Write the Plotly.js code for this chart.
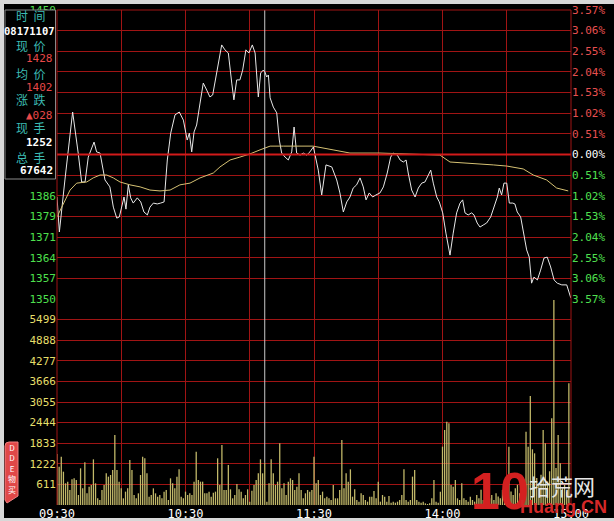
<!DOCTYPE html>
<html><head><meta charset="utf-8">
<script src="https://cdn.plot.ly/plotly-3.0.1.min.js"></script>
<style>html,body{margin:0;padding:0;background:#000;}#chart{width:614px;height:521px;}</style>
</head><body><div id="chart"></div>
<script>
// ---------- data ----------
const prevClose = 1400;
const pctLevels = [-3.57,-3.06,-2.55,-2.04,-1.53,-1.02,-0.51,0,0.51,1.02,1.53,2.04,2.55,3.06,3.57];
const priceTickText = ['1350','1357','1364','1371','1379','1386','','','','','','','','','1450'];
const pctTickText = ['3.57%','3.06%','2.55%','2.04%','1.53%','1.02%','0.51%','0.00%','0.51%','1.02%','1.53%','2.04%','2.55%','3.06%','3.57%'];
const volTickVals = [611,1222,1833,2444,3055,3666,4277,4888,5499];
const volTickText = ['611','1222','1833','2444','3055','3666','4277','4888','5499'];
const volMax = 6110;
const timeTickVals = [0,30,60,90,120,150,180,210,240];
const timeTickText = ['09:30','','10:30','','11:30','','14:00','','15:00'];

const priceTime = [0,1.1,3.7,7.3,9.9,11.5,13.1,14.6,17.3,18.5,20.1,22.4,24.7,26.3,27.9,29.1,31.3,32.2,33.3,34.4,35.6,37.5,39.1,40.6,42.2,43.4,45.0,46.8,48.4,50.0,51.5,53.1,55.1,57.1,59.0,60.8,61.8,62.9,64.0,65.2,66.8,68.3,69.9,71.4,72.7,73.8,75.3,76.9,78.4,80.0,81.6,82.6,83.9,85.4,86.7,88.2,89.6,91.2,92.5,94.0,95.1,96.3,97.1,97.9,98.7,99.5,101.0,102.6,103.8,104.9,106.5,108.0,109.6,110.7,111.9,113.5,115.0,116.6,118.1,119.7,122.0,123.6,125.6,128.3,130.6,132.1,133.7,135.3,136.8,138.3,139.9,141.5,143.0,144.3,145.8,147.4,148.9,150.8,152.4,154.2,155.8,157.0,158.9,160.2,161.7,163.0,164.0,165.6,167.2,168.7,170.3,171.8,173.4,174.5,175.7,177.3,178.5,180.1,181.6,183.5,185.0,186.6,188.2,189.4,190.5,192.0,193.6,194.7,196.2,197.5,199.0,200.6,202.5,204.0,205.6,206.5,207.6,208.7,210.0,211.2,212.8,213.8,214.9,216.5,218.0,219.3,220.5,221.6,222.7,224.3,225.8,227.4,228.9,230.5,232.1,233.6,235.7,238.0,239.9];
const priceVals = [1385.3,1373.2,1391.2,1414.7,1400.5,1390.5,1390.5,1399.1,1404.3,1400.9,1400.5,1391.2,1388.8,1381.8,1378.0,1378.4,1385.3,1381.1,1389.5,1385.0,1383.2,1385.0,1383.6,1380.1,1379.1,1381.8,1383.2,1382.9,1383.2,1383.6,1398.1,1407.4,1413.7,1414.7,1411.9,1405.0,1407.4,1400.9,1407.8,1410.2,1417.8,1424.7,1422.3,1419.9,1420.6,1425.1,1431.0,1437.9,1436.2,1435.1,1424.7,1418.9,1425.8,1425.8,1429.2,1436.2,1435.1,1437.9,1435.1,1419.9,1428.2,1429.2,1428.5,1426.8,1427.5,1419.6,1416.4,1414.4,1405.0,1400.5,1399.1,1398.1,1400.9,1409.5,1400.5,1399.8,1400.5,1399.8,1400.9,1402.6,1394.6,1386.0,1396.4,1395.7,1391.2,1386.7,1380.1,1383.6,1385.3,1388.4,1389.5,1391.9,1388.8,1384.3,1386.7,1385.3,1386.0,1386.7,1388.8,1393.6,1399.1,1400.5,1399.8,1398.1,1397.4,1398.1,1393.6,1387.7,1385.3,1388.4,1390.1,1390.5,1392.9,1394.6,1390.1,1385.3,1383.6,1379.8,1372.8,1365.2,1372.8,1379.8,1383.2,1384.3,1379.8,1379.1,1379.8,1379.1,1376.3,1374.9,1375.6,1376.3,1378.4,1381.8,1385.3,1388.4,1386.0,1390.1,1390.1,1383.2,1383.2,1382.9,1380.1,1378.4,1372.8,1367.0,1364.5,1355.5,1357.6,1356.6,1360.0,1364.2,1364.5,1361.1,1356.6,1355.5,1354.9,1354.9,1350.4];

const avgTime = [0,3.7,6.1,9.2,13.9,16.9,20.1,23.2,26.3,29.4,34.1,38.8,43.4,48.1,52.8,57.4,62.1,66.8,73.0,76.1,80.8,85.4,90.1,94.8,99.5,105.7,113.5,119.5,128.9,136.8,150.8,160.2,178.8,183.5,191.3,203.7,210.0,217.7,222.4,228.6,233.3,238.7];
const avgVals = [1378.4,1384.3,1387.7,1390.1,1390.5,1391.9,1392.9,1392.9,1391.9,1390.5,1389.5,1388.8,1387.7,1387.4,1387.7,1389.5,1390.1,1391.9,1393.6,1395.7,1398.1,1399.1,1400.2,1401.6,1402.9,1402.9,1402.9,1402.9,1401.6,1400.5,1400.5,1400.2,1399.8,1397.4,1397.1,1396.4,1396.0,1395.0,1392.9,1391.2,1388.4,1387.4];

const volume = [
1513,1137,1434,989,643,692,445,761,791,742,
297,1088,494,1266,346,544,593,1355,643,198,
148,445,593,940,841,890,1038,2077,1038,692,
494,198,396,494,1335,1038,297,198,346,890,
1434,1385,940,247,297,494,346,247,297,198,
396,445,148,791,643,494,841,1058,247,198,
396,297,346,297,692,1582,742,692,692,346,
346,396,247,366,396,1385,593,1780,445,445,
1187,465,198,297,623,465,396,198,297,465,
99,425,593,742,940,1355,940,1252,99,643,
1355,940,593,692,1830,494,643,297,692,791,
742,445,544,940,445,198,346,445,396,445,
1434,
643,742,297,396,198,247,198,148,593,198,
198,445,1929,494,940,692,1058,247,465,148,
99,346,297,148,99,247,247,415,198,692,
99,297,247,99,267,69,99,69,99,148,
297,1058,148,99,148,841,1038,148,99,69,
99,49,30,49,198,742,99,69,396,
1731,2225,2472,2423,593,544,742,198,148,643,
198,148,99,247,148,99,300,200,450,150,
250,400,200,300,150,350,250,200,450,300,
250,1731,400,300,500,600,350,700,643,2176,
1731,3234,1652,1533,800,600,900,2225,1830,700,
1000,2571,6082,1100,2077,1236,500,600,400,3610];
const volMinute = volume.map((v, i) => i);

const cursorMinute = 97;
const cursorVolume = 1252;
const infoLabels = ['时\u00a0\u00a0间','现\u00a0\u00a0价','均\u00a0\u00a0价','涨\u00a0\u00a0跌','现\u00a0\u00a0手','总\u00a0\u00a0手'];
const infoValues = ['08171107','1428','1402','▲028','1252','67642'];

// ---------- layout helpers ----------
const L = 57, T = 10, W = 514, H = 495;
const px = x => (x - L) / W;
const py = y => (T + H - y) / H;
const priceBottom = py(299);
const priceLevels = pctLevels.map(p => prevClose * (1 + p / 100));
const pctColored = pctLevels.map((p, i) => {
  const c = p > 0 ? '#e85050' : (p < 0 ? '#50e050' : '#ffffff');
  return '<span style="color:' + c + '">' + pctTickText[pctLevels.length - 1 - i] + '</span>';
});
const grid = '#a01414';
const mono = 'DejaVu Sans Mono, monospace';
const cjk = 'Noto Sans CJK SC, sans-serif';

const traces = [
  {type:'bar', x: volMinute, y: volume, yaxis:'y2', width:0.6,
   marker:{color:'#c2b96a', line:{width:0}}, hoverinfo:'skip'},
  {type:'scatter', mode:'lines', x: priceTime, y: priceVals, yaxis:'y',
   line:{color:'#e8e8e8', width:1}, hoverinfo:'skip'},
  {type:'scatter', mode:'lines', x: avgTime, y: avgVals, yaxis:'y3',
   line:{color:'#d6c274', width:1}, hoverinfo:'skip'}
];

const annotations = [];
const infoY = [16, 45, 73, 100, 128, 157];
const valY = [31, 59, 87, 115, 143, 170];
infoLabels.forEach((t, i) => annotations.push({
  text: t, xref:'paper', yref:'paper', x: px(30), y: py(infoY[i]), xanchor:'center', yanchor:'middle',
  showarrow:false, font:{family:cjk, size:12, color:'#3cbcb4'}
}));
infoValues.forEach((t, i) => {
  const red = (i >= 1 && i <= 3);
  annotations.push({
    text: red ? t : '<b>' + t + '</b>', xref:'paper', yref:'paper',
    x: i === 0 ? px(29.5) : px(55), y: py(valY[i]),
    xanchor: i === 0 ? 'center' : 'right', yanchor:'middle', showarrow:false,
    font:{family:mono, size: i === 0 ? 10.5 : 11, color: red ? '#e84848' : '#ffffff'}
  });
});
// DDE tag text
annotations.push({text:'D<br>D<br>E<br>物<br>买', xref:'paper', yref:'paper', x:px(11.5), y:py(468),
  xanchor:'center', yanchor:'middle', showarrow:false,
  font:{family:cjk, size:8, color:'#ffffff'}});
// watermark
annotations.push({text:'<b>10</b>', xref:'paper', yref:'paper', x:px(500), y:py(491),
  xanchor:'center', yanchor:'middle', showarrow:false,
  font:{family:'Liberation Sans, sans-serif', size:52, color:'#d42020'}});
annotations.push({text:'拾荒网', xref:'paper', yref:'paper', x:px(562), y:py(485),
  xanchor:'center', yanchor:'middle', showarrow:false,
  font:{family:cjk, size:22, color:'#e6e6e6'}});
annotations.push({text:'<b>Huang.CN</b>', xref:'paper', yref:'paper', x:px(563), y:py(507),
  xanchor:'center', yanchor:'middle', showarrow:false,
  font:{family:'Liberation Sans, sans-serif', size:18, color:'#d42828'}});

const shapes = [
  {type:'line', xref:'x', yref:'y', x0:0, x1:240, y0:prevClose, y1:prevClose,
   line:{color:'#d21a1a', width:2}},
  {type:'line', xref:'x', yref:'y', x0:cursorMinute, x1:cursorMinute,
   y0:priceLevels[0], y1:priceLevels[priceLevels.length-1], line:{color:'#c8c8c8', width:1}},
  {type:'line', xref:'x', yref:'y2', x0:cursorMinute, x1:cursorMinute,
   y0:cursorVolume, y1:volMax, line:{color:'#c8c8c8', width:1}},
  // frame edges
  {type:'line', xref:'paper', yref:'paper', x0:0, x1:0, y0:0, y1:1, line:{color:grid, width:1}},
  {type:'line', xref:'paper', yref:'paper', x0:1, x1:1, y0:0, y1:1, line:{color:grid, width:1}},
  {type:'line', xref:'paper', yref:'paper', x0:0, x1:1, y0:1, y1:1, line:{color:grid, width:1}},
  // info box
  {type:'rect', xref:'paper', yref:'paper', x0:px(5), x1:px(55.5), y0:py(179), y1:py(10),
   fillcolor:'#000', line:{color:'#8a8a8a', width:1}, layer:'above'},
  // window frame
  {type:'rect', xref:'paper', yref:'paper', x0:px(0), x1:px(614), y0:py(4), y1:py(0),
   fillcolor:'#d8d8d8', line:{width:0}, layer:'above'},
  {type:'rect', xref:'paper', yref:'paper', x0:px(0), x1:px(4), y0:py(521), y1:py(0),
   fillcolor:'#d8d8d8', line:{width:0}, layer:'above'},
  {type:'rect', xref:'paper', yref:'paper', x0:px(0), x1:px(614), y0:py(521), y1:py(518),
   fillcolor:'#d8d8d8', line:{width:0}, layer:'above'},
  // DDE tag
  {type:'path', xref:'paper', yref:'paper', layer:'above',
   path:'M ' + px(5) + ' ' + py(446) + ' Q ' + px(5) + ' ' + py(442) + ' ' + px(9) + ' ' + py(442) +
        ' L ' + px(18) + ' ' + py(442) + ' L ' + px(18) + ' ' + py(496) + ' L ' + px(7) + ' ' + py(503) +
        ' L ' + px(5) + ' ' + py(500) + ' Z',
   fillcolor:'#e04848', line:{color:'#f08080', width:1}}
];

const layout = {
  width:614, height:521,
  margin:{l:L, r:614-L-W, t:T, b:521-T-H, pad:0},
  paper_bgcolor:'#000', plot_bgcolor:'#000',
  showlegend:false, bargap:0.4,
  xaxis:{range:[0,240], domain:[0,1], anchor:'y2', tickmode:'array', tickvals:timeTickVals,
    ticktext:timeTickText, showgrid:true, gridcolor:grid, gridwidth:1, zeroline:false, ticks:'',
    showline:false, tickfont:{family:mono, size:12, color:'#ffffff'}, fixedrange:true},
  yaxis:{domain:[priceBottom,1], anchor:'x', range:[priceLevels[0], priceLevels[priceLevels.length-1]],
    tickmode:'array', tickvals:priceLevels, ticktext:priceTickText, showgrid:true, gridcolor:grid,
    gridwidth:1, zeroline:false, ticks:'', showline:false,
    tickfont:{family:mono, size:11, color:'#4ee04e'}, fixedrange:true},
  yaxis2:{domain:[0,priceBottom], anchor:'x', range:[0, volMax], tickmode:'array',
    tickvals:volTickVals, ticktext:volTickText, showgrid:true, gridcolor:grid, gridwidth:1,
    zeroline:false, ticks:'', showline:false,
    tickfont:{family:mono, size:11, color:'#e6df6a'}, fixedrange:true},
  yaxis3:{overlaying:'y', side:'right', anchor:'x', range:[priceLevels[0], priceLevels[priceLevels.length-1]],
    tickmode:'array', tickvals:priceLevels, ticktext:pctColored, showgrid:false, zeroline:false,
    ticks:'', showline:false, tickfont:{family:mono, size:11, color:'#ffffff'}, fixedrange:true},
  shapes: shapes,
  annotations: annotations
};

Plotly.newPlot('chart', traces, layout, {staticPlot:true, displayModeBar:false});
</script>
</body></html>
